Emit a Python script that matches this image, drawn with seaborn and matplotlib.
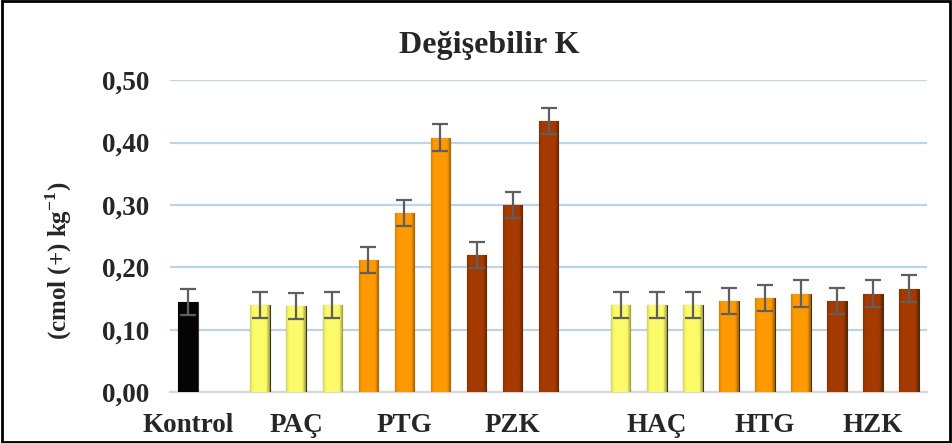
import numpy as np
import pandas as pd
import matplotlib
matplotlib.use("Agg")
import matplotlib.pyplot as plt
from matplotlib.colors import LinearSegmentedColormap, to_rgb
from matplotlib.patches import Rectangle
import seaborn as sns

# Veriler
gruplar = ["Kontrol", "PAÇ", "PTG", "PZK", "HAÇ", "HTG", "HZK"]
kontrol = [0.144]
pac = [0.140, 0.138, 0.140]
ptg = [0.212, 0.287, 0.408]
pzk = [0.220, 0.300, 0.435]
hac = [0.140, 0.140, 0.140]
htg = [0.146, 0.151, 0.158]
hzk = [0.146, 0.158, 0.166]
hata = 0.021

renkler = {"Kontrol": "#050505", "PAÇ": "#fbfb6a", "HAÇ": "#fbfb6a",
           "PTG": "#ff9900", "HTG": "#ff9900", "PZK": "#a53a00", "HZK": "#a53a00"}

# Bar tablosu; boş aralıklar için boş slotlar
seriler = [kontrol, None, pac, ptg, pzk, None, hac, htg, hzk]
adlar = ["Kontrol", None, "PAÇ", "PTG", "PZK", None, "HAÇ", "HTG", "HZK"]
satirlar, sira, etiket_pos = [], [], {}
for ad, seri in zip(adlar, seriler):
    if seri is None:
        sira.append(f"bos{len(sira)}")
        continue
    baslangic = len(sira)
    for i, v in enumerate(seri):
        slot = f"{ad}_{i}"
        sira.append(slot)
        satirlar.append({"slot": slot, "grup": ad, "deger": v})
    etiket_pos[ad] = baslangic + (len(seri) - 1) / 2
df = pd.DataFrame(satirlar)

sns.set_style("white")
plt.rcParams["font.family"] = ["Liberation Serif", "DejaVu Serif"]
plt.rcParams["font.weight"] = "bold"
plt.rcParams["mathtext.fontset"] = "custom"
plt.rcParams["mathtext.rm"] = "Liberation Serif:bold"
plt.rcParams["mathtext.bf"] = "Liberation Serif:bold"

fig = plt.figure(figsize=(9.52, 4.43), dpi=100)
ax = fig.add_axes([0.1786, 0.115, 0.7954, 0.704])

sns.barplot(data=df, x="slot", y="deger", hue="grup", order=sira,
            palette=renkler, saturation=1, width=0.54, legend=False, ax=ax,
            edgecolor="#3a3420", linewidth=0.8, zorder=3)

# Bar gölgelendirmesi (kenarlar biraz koyu)
for patch in ax.patches:
    x0, y0 = patch.get_x(), patch.get_y()
    w, h = patch.get_width(), patch.get_height()
    if h <= 0:
        continue
    base = np.array(to_rgb(patch.get_facecolor()))
    cmap = LinearSegmentedColormap.from_list(
        "g", [(0, base * 0.85), (0.14, base), (0.82, base), (1, base * 0.62)])
    grad = np.linspace(0, 1, 64).reshape(1, -1)
    im = ax.imshow(grad, cmap=cmap, extent=[x0, x0 + w, y0, y0 + h],
                   aspect="auto", zorder=3.5, interpolation="bilinear")
    im.set_clip_path(patch)

# Hata çubukları
xpos = [sira.index(s) for s in df["slot"]]
ax.errorbar(xpos, df["deger"], yerr=hata, fmt="none", ecolor="#5f5f5f",
            elinewidth=1.6, capsize=6, capthick=1.6, zorder=5)

ax.set_xlim(-0.5, len(sira) - 0.5)
ax.set_ylim(0, 0.5)
ax.set_yticks(np.arange(0, 0.51, 0.1))
ax.set_yticklabels([f"{v:.2f}".replace(".", ",") for v in np.arange(0, 0.51, 0.1)],
                   fontsize=19.5, fontweight="bold")
ax.set_xticks(list(etiket_pos.values()))
ax.set_xticklabels(list(etiket_pos.keys()), fontsize=19.5, fontweight="bold")
ax.tick_params(axis="y", length=0, pad=15)
ax.tick_params(axis="x", length=0, pad=15)

ax.grid(axis="y", color="#bcd4ea", linewidth=1.6, zorder=0)
ax.grid(axis="x", visible=False)
ax.set_axisbelow(True)
for s in ["top", "right", "left"]:
    ax.spines[s].set_visible(False)
ax.spines["bottom"].set_color("#d9d9d9")
ax.spines["bottom"].set_linewidth(1.6)

ax.set_xlabel("")
ax.set_ylabel(r"(cmol (+) kg$^{\mathbf{-1}}$)", fontsize=18, fontweight="bold", va="center")
ax.yaxis.set_label_coords(-0.147, 0.42)

fig.text(0.514, 0.897, "Değişebilir K", fontsize=23, fontweight="bold",
         ha="center", va="center")

fig.patches.append(Rectangle((0.002, 0.003), 0.996, 0.994, transform=fig.transFigure,
                             fill=False, edgecolor="black", linewidth=2))

fig.savefig("out.png", dpi=100)
